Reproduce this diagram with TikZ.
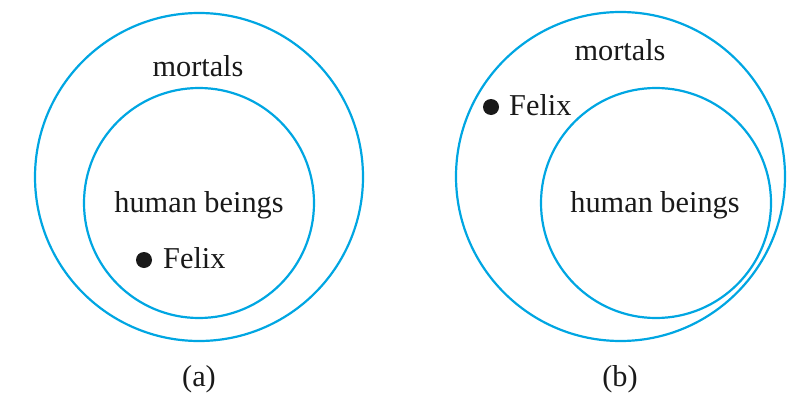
\documentclass[tikz,border=0pt]{standalone}
\usepackage{fontspec}
\setmainfont{Liberation Serif}
\definecolor{setblue}{RGB}{0,166,226}
\begin{document}
\begin{tikzpicture}[x=1pt,y=-1pt,
  setline/.style={draw=setblue,line width=2.2pt},
  lbl/.style={anchor=base,inner sep=0pt,font=\fontsize{30.3}{36}\selectfont,text=black!90},
  elem/.style={circle,fill=black!90,minimum size=16pt,inner sep=0pt}]
\useasboundingbox (0,0) rectangle (802,404);
% (a)
\node[circle,setline,minimum size=328pt,inner sep=0pt] (Ma) at (199,177) {};
\node[circle,setline,minimum size=230pt,inner sep=0pt] (Ha) at (199,203) {};
\node[lbl] (mta) at (198,76) {mortals};
\node[lbl] (hba) at (199,212) {human beings};
\node[elem] (fa) at (144,260) {};
\node[lbl,anchor=base west] (fta) at (163,268) {Felix};
\node[lbl] (capa) at (199,386) {(a)};
% (b)
\node[circle,setline,minimum size=329pt,inner sep=0pt] (Mb) at (620.5,176.5) {};
\node[circle,setline,minimum size=230pt,inner sep=0pt] (Hb) at (656,203) {};
\node[lbl] (mtb) at (620,60) {mortals};
\node[lbl] (hbb) at (655,212) {human beings};
\node[elem] (fb) at (491,107) {};
\node[lbl,anchor=base west] (ftb) at (509,115) {Felix};
\node[lbl] (capb) at (620,386) {(b)};
\end{tikzpicture}
\end{document}
